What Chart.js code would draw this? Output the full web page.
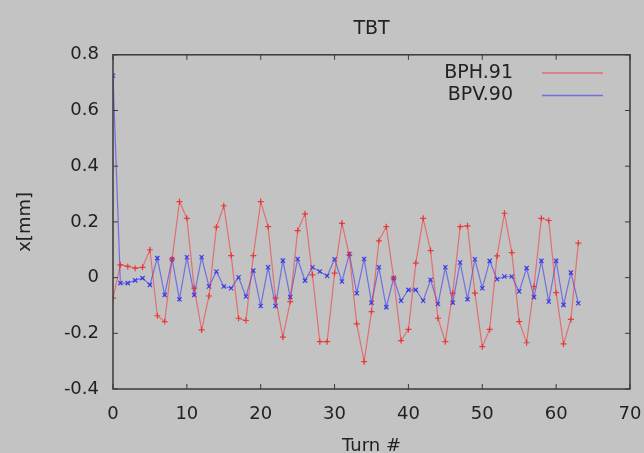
<!DOCTYPE html>
<html>
<head>
<meta charset="utf-8">
<script src="https://cdn.jsdelivr.net/npm/chart.js@4/dist/chart.umd.min.js"></script>
<style>
  html, body { margin: 0; padding: 0; background: #c3c3c3; }
  canvas { display: block; }
</style>
</head>
<body>
<canvas id="tbtChart" width="644" height="453"></canvas>
<script>
// Turn numbers and the two BPM readings (mm)
const turns = [0, 1, 2, 3, 4, 5, 6, 7, 8, 9, 10, 11, 12, 13, 14, 15, 16, 17, 18, 19,
  20, 21, 22, 23, 24, 25, 26, 27, 28, 29, 30, 31, 32, 33, 34, 35, 36, 37, 38, 39,
  40, 41, 42, 43, 44, 45, 46, 47, 48, 49, 50, 51, 52, 53, 54, 55, 56, 57, 58, 59,
  60, 61, 62, 63];

const bph91 = [-0.074, 0.046, 0.04, 0.034, 0.037, 0.10, -0.137, -0.158, 0.066, 0.273,
  0.213, -0.038, -0.188, -0.066, 0.181, 0.258, 0.079, -0.146, -0.154, 0.079,
  0.273, 0.183, -0.074, -0.214, -0.086, 0.169, 0.229, 0.01, -0.23, -0.23,
  0.016, 0.195, 0.082, -0.166, -0.302, -0.122, 0.132, 0.183, -0.002, -0.226,
  -0.186, 0.052, 0.213, 0.097, -0.146, -0.23, -0.056, 0.183, 0.186, -0.056,
  -0.248, -0.186, 0.078, 0.231, 0.09, -0.158, -0.234, -0.032, 0.213, 0.205,
  -0.054, -0.238, -0.15, 0.124];

const bpv90 = [0.725, -0.02, -0.02, -0.01, -0.002, -0.026, 0.07, -0.062, 0.066, -0.078,
  0.073, -0.062, 0.073, -0.032, 0.022, -0.032, -0.038, 0.001, -0.068, 0.025,
  -0.102, 0.037, -0.102, 0.061, -0.07, 0.067, -0.011, 0.037, 0.022, 0.006,
  0.066, -0.014, 0.085, -0.056, 0.067, -0.09, 0.037, -0.106, -0.002, -0.083,
  -0.044, -0.044, -0.083, -0.008, -0.095, 0.037, -0.09, 0.054, -0.078, 0.066,
  -0.038, 0.06, -0.006, 0.004, 0.004, -0.05, 0.034, -0.07, 0.06, -0.086,
  0.06, -0.098, 0.018, -0.092];

const seriesNames = ["BPH.91", "BPV.90"];
const xTicks = [0, 10, 20, 30, 40, 50, 60, 70];
const yTicks = [-0.4, -0.2, 0, 0.2, 0.4, 0.6, 0.8];
const yTickLabels = ["-0.4", "-0.2", "0", "0.2", "0.4", "0.6", "0.8"];

const FONT = "'DejaVu Sans', sans-serif";
const TEXT = "#222";
const redLine = "rgba(255, 30, 30, 0.5)";
const blueLine = "rgba(30, 30, 255, 0.5)";

// gray page background
const background = {
  id: "background",
  beforeDraw(chart) {
    const ctx = chart.ctx;
    ctx.save();
    ctx.fillStyle = "#c3c3c3";
    ctx.fillRect(0, 0, chart.width, chart.height);
    ctx.restore();
  },
};

// gnuplot style frame with inward ticks on all four sides
const frame = {
  id: "frame",
  afterDatasetsDraw(chart) {
    const { ctx, chartArea: a, scales } = chart;
    ctx.save();
    ctx.strokeStyle = "#3a3a3a";
    ctx.lineWidth = 1.5;
    ctx.strokeRect(a.left, a.top, a.right - a.left, a.bottom - a.top);
    ctx.lineWidth = 1;
    ctx.beginPath();
    xTicks.forEach((v) => {
      const px = scales.x.getPixelForValue(v);
      ctx.moveTo(px, a.bottom); ctx.lineTo(px, a.bottom - 5);
      ctx.moveTo(px, a.top); ctx.lineTo(px, a.top + 5);
    });
    yTicks.forEach((v) => {
      const py = scales.y.getPixelForValue(v);
      ctx.moveTo(a.left, py); ctx.lineTo(a.left + 5, py);
      ctx.moveTo(a.right, py); ctx.lineTo(a.right - 5, py);
    });
    ctx.stroke();
    ctx.restore();
  },
};

// key in the top right corner: text then a line sample
const key = {
  id: "key",
  afterDraw(chart) {
    const ctx = chart.ctx;
    const colors = [redLine, blueLine];
    ctx.save();
    ctx.font = "19px " + FONT;
    ctx.textAlign = "right";
    ctx.textBaseline = "middle";
    seriesNames.forEach((name, i) => {
      const y = 73 + i * 22.5;
      ctx.fillStyle = TEXT;
      ctx.fillText(name, 513, y);
      ctx.strokeStyle = colors[i];
      ctx.lineWidth = 1.3;
      ctx.beginPath();
      ctx.moveTo(542, y);
      ctx.lineTo(603, y);
      ctx.stroke();
    });
    ctx.restore();
  },
};

const ctx = document.getElementById("tbtChart").getContext("2d");
new Chart(ctx, {
  type: "line",
  data: {
    datasets: [
      {
        label: seriesNames[0],
        data: turns.map((t, i) => ({ x: t, y: bph91[i] })),
        borderColor: redLine,
        borderWidth: 1.2,
        pointStyle: "cross",
        pointRadius: 3,
        pointBorderColor: "rgba(235, 40, 40, 0.85)",
        pointBorderWidth: 1.2,
        tension: 0,
      },
      {
        label: seriesNames[1],
        data: turns.map((t, i) => ({ x: t, y: bpv90[i] })),
        borderColor: blueLine,
        borderWidth: 1.2,
        pointStyle: "crossRot",
        pointRadius: 3,
        pointBorderColor: "rgba(40, 40, 235, 0.85)",
        pointBorderWidth: 1.2,
        tension: 0,
      },
    ],
  },
  options: {
    responsive: false,
    animation: false,
    layout: { padding: { left: 0, right: 14, top: 0, bottom: 0 } },
    plugins: {
      legend: { display: false },
      tooltip: { enabled: false },
      title: {
        display: true,
        text: "TBT",
        fullSize: false,
        color: TEXT,
        font: { family: FONT, size: 19, weight: "normal", lineHeight: 1.2 },
        padding: { top: 18, bottom: 14 },
      },
    },
    scales: {
      x: {
        type: "linear",
        min: 0,
        max: 70,
        grid: { display: false, drawTicks: false },
        border: { display: false },
        ticks: {
          stepSize: 10,
          padding: 15,
          color: TEXT,
          font: { family: FONT, size: 18 },
        },
        title: {
          display: true,
          text: "Turn #",
          color: TEXT,
          font: { family: FONT, size: 18, lineHeight: 1 },
          padding: { top: 0, bottom: -2 },
        },
        afterFit: (s) => {
          s.height = 64;
          s.paddingLeft = 0;
          s.paddingRight = 0;
        },
      },
      y: {
        min: -0.4,
        max: 0.8,
        grid: { display: false, drawTicks: false },
        border: { display: false },
        ticks: {
          stepSize: 0.2,
          padding: 14,
          color: TEXT,
          font: { family: FONT, size: 18 },
          callback: (value) => {
            const i = yTicks.findIndex((t) => Math.abs(t - value) < 1e-9);
            return i >= 0 ? yTickLabels[i] : "";
          },
        },
        title: {
          display: true,
          text: "x[mm]",
          color: TEXT,
          font: { family: FONT, size: 18, lineHeight: 1 },
          padding: { top: 16, bottom: 0 },
        },
        afterFit: (s) => {
          s.width = 113;
          s.paddingTop = 0;
          s.paddingBottom = 0;
        },
      },
    },
  },
  plugins: [background, frame, key],
});
</script>
</body>
</html>
